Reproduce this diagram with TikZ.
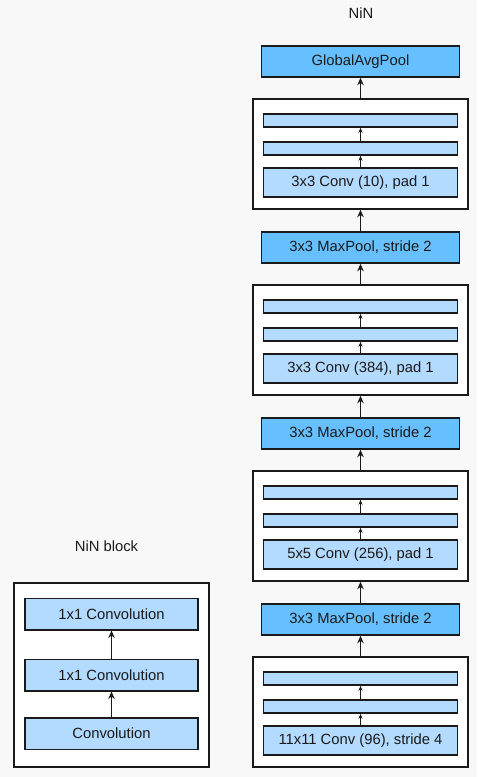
\documentclass[tikz,border=0pt]{standalone}
\usepackage{fontspec}
\setmainfont{Liberation Sans}
\usetikzlibrary{arrows.meta}
\definecolor{convblue}{HTML}{B3DAFF}
\definecolor{poolblue}{HTML}{66BFFF}
\definecolor{bggray}{HTML}{F8F8F8}
\definecolor{ink}{HTML}{1A1A1A}

\begin{document}
\begin{tikzpicture}[x=1pt, y=-1pt,
    every node/.style={font=\fontsize{14.8}{17}\selectfont, text=ink, inner sep=0pt},
    blk/.style={draw=ink, line width=1.5pt, fill=white, minimum width=215pt, minimum height=110pt},
    pool/.style={draw=ink, line width=1.5pt, fill=poolblue, minimum width=198pt, minimum height=31pt},
    bar/.style={draw=ink, line width=1.5pt, fill=convblue, minimum width=194pt, minimum height=13pt},
    conv/.style={draw=ink, line width=1.5pt, fill=convblue, minimum width=194pt, minimum height=29pt},
    nbox/.style={draw=ink, line width=1.5pt, fill=convblue, minimum width=173pt, minimum height=31.5pt},
    arr/.style={draw=ink, line width=1.4pt, -{Stealth[length=7.5pt, width=6.5pt]}},
    iarr/.style={draw=ink, line width=1.2pt, -{Stealth[length=5pt, width=4pt]}}]
    \fill[bggray] (0,0) rectangle (477,777);
    \node (nintitle) at (361,13) {NiN};
    \node[pool] (gap) at (360.5,61.5) {GlobalAvgPool};
    \node[blk] (ba) at (360.5,154) {};
    \node[bar] (baa) at (360.5,120.5) {};
    \node[bar] (bab) at (360.5,148.5) {};
    \node[conv] (bac) at (360.5,182.5) {3x3 Conv (10), pad 1};
    \node[pool] (pa) at (360.5,247.5) {3x3 MaxPool, stride 2};
    \node[blk] (bb) at (360.5,340) {};
    \node[bar] (bba) at (360.5,306.5) {};
    \node[bar] (bbb) at (360.5,334.5) {};
    \node[conv] (bbc) at (360.5,368.5) {3x3 Conv (384), pad 1};
    \node[pool] (pb) at (360.5,433.5) {3x3 MaxPool, stride 2};
    \node[blk] (bc) at (360.5,526) {};
    \node[bar] (bca) at (360.5,492.5) {};
    \node[bar] (bcb) at (360.5,520.5) {};
    \node[conv] (bcc) at (360.5,554.5) {5x5 Conv (256), pad 1};
    \node[pool] (pc) at (360.5,619.5) {3x3 MaxPool, stride 2};
    \node[blk] (bd) at (360.5,712) {};
    \node[bar] (bda) at (360.5,678.5) {};
    \node[bar] (bdb) at (360.5,706.5) {};
    \node[conv] (bdc) at (360.5,740.5) {11x11 Conv (96), stride 4};
    \draw[iarr] (bac) -- (bab);
    \draw[iarr] (bab) -- (baa);
    \draw[iarr] (bbc) -- (bbb);
    \draw[iarr] (bbb) -- (bba);
    \draw[iarr] (bcc) -- (bcb);
    \draw[iarr] (bcb) -- (bca);
    \draw[iarr] (bdc) -- (bdb);
    \draw[iarr] (bdb) -- (bda);
    \draw[arr] (bd) -- (pc);
    \draw[arr] (pc) -- (bc);
    \draw[arr] (bc) -- (pb);
    \draw[arr] (pb) -- (bb);
    \draw[arr] (bb) -- (pa);
    \draw[arr] (pa) -- (ba);
    \draw[arr] (ba) -- (gap);
    \node (nbtitle) at (106.5,546) {NiN block};
    \node[blk, minimum width=195pt, minimum height=184pt] (nb) at (111.5,675) {};
    \node[nbox] (nbc) at (111.5,614) {1x1 Convolution};
    \node[nbox] (nbb) at (111.5,675) {1x1 Convolution};
    \node[nbox] (nba) at (111.5,733.5) {Convolution};
    \draw[arr] (nba) -- (nbb);
    \draw[arr] (nbb) -- (nbc);
\end{tikzpicture}
\end{document}
